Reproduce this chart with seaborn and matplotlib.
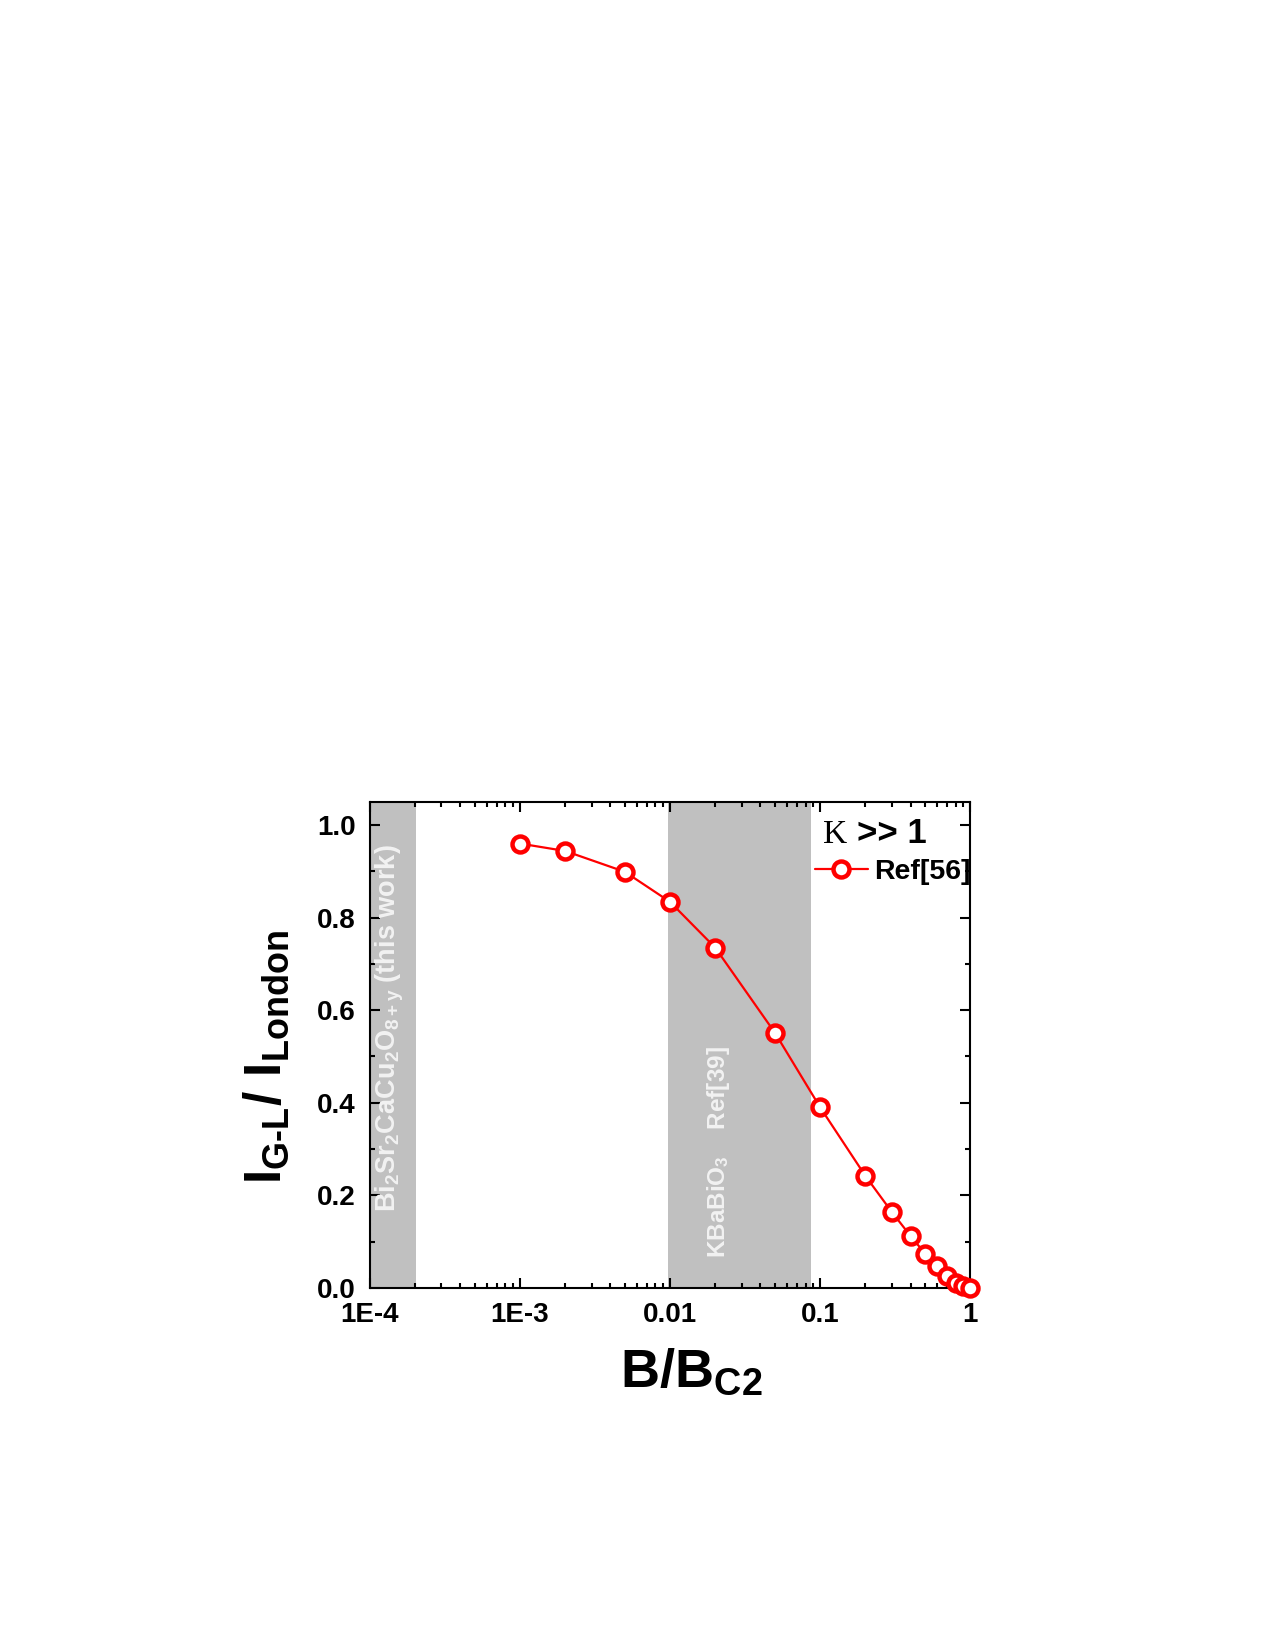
import numpy as np
import pandas as pd
import seaborn as sns
import matplotlib.pyplot as plt
from matplotlib.ticker import MultipleLocator, LogLocator, NullFormatter

# data
b_ratio = [0.001, 0.002, 0.005, 0.01, 0.02, 0.05, 0.1, 0.2, 0.3, 0.4, 0.5, 0.6, 0.7, 0.8, 0.9, 1.0]
i_ratio = [0.960, 0.944, 0.899, 0.834, 0.735, 0.551, 0.390, 0.242, 0.164, 0.112, 0.074, 0.047, 0.025, 0.011, 0.004, 0.0]

band_bi = (1e-4, 2.03e-4)
band_kba = (0.0097, 0.087)

xtick_vals = [1e-4, 1e-3, 0.01, 0.1, 1]
xtick_labels = ['1E-4', '1E-3', '0.01', '0.1', '1']
ytick_vals = [0.0, 0.2, 0.4, 0.6, 0.8, 1.0]

sns.set_style('ticks', rc={'text.color': 'black', 'axes.labelcolor': 'black',
                           'xtick.color': 'black', 'ytick.color': 'black',
                           'axes.edgecolor': 'black'})
plt.rcParams['font.family'] = ['Liberation Sans', 'DejaVu Sans']
plt.rcParams['mathtext.fontset'] = 'custom'
plt.rcParams['mathtext.rm'] = 'Liberation Sans:bold'
plt.rcParams['mathtext.it'] = 'Liberation Sans:bold'
plt.rcParams['mathtext.bf'] = 'Liberation Sans:bold'
plt.rcParams['mathtext.default'] = 'rm'

df = pd.DataFrame({'b': b_ratio, 'i': i_ratio})

fig = plt.figure(figsize=(12.75, 16.5), dpi=100)
ax = fig.add_axes([0.290, 0.2195, 0.471, 0.2945])

# shaded regions
ax.axvspan(*band_bi, color='#c0c0c0', lw=0, zorder=0)
ax.axvspan(*band_kba, color='#c0c0c0', lw=0, zorder=0)

sns.lineplot(data=df, x='b', y='i', ax=ax, color='red', lw=1.6,
             marker='o', markersize=11.5, markerfacecolor='white',
             markeredgecolor='red', markeredgewidth=3.2,
             label='Ref[56]', zorder=3, clip_on=False)

ax.set_xscale('log')
ax.set_xlim(1e-4, 1)
ax.set_ylim(0, 1.05)

ax.set_xticks(xtick_vals)
ax.set_xticklabels(xtick_labels)
ax.xaxis.set_minor_locator(LogLocator(base=10, subs=np.arange(2, 10)))
ax.xaxis.set_minor_formatter(NullFormatter())
ax.set_yticks(ytick_vals)
ax.set_yticklabels([f'{v:.1f}' for v in ytick_vals])
ax.yaxis.set_minor_locator(MultipleLocator(0.1))

ax.tick_params(which='both', direction='in', top=True, right=True, width=1.5)
ax.tick_params(which='major', length=7, labelsize=20, pad=10)
ax.tick_params(which='minor', length=3.5)
for lab in ax.get_xticklabels() + ax.get_yticklabels():
    lab.set_fontweight('bold')
for sp in ax.spines.values():
    sp.set_linewidth(1.5)

ax.set_xlabel(r'$\mathbf{B/B_{C2}}$', fontsize=39)
ax.xaxis.set_label_coords(0.535, -0.121)
ax.set_ylabel(r'$\mathbf{I_{\text{G-L}}/\ I_{London}}$', fontsize=37)
ax.yaxis.set_label_coords(-0.13, 0.475)

# labels inside the bands
ax.text(1.36e-4, 0.164, r'Bi$_2$Sr$_2$CaCu$_2$O$_{8+y}$ (this work)',
        rotation=90, ha='center', va='bottom', fontsize=19.5,
        fontweight='bold', color='#f2f2f2')
ax.text(0.0209, 0.065, r'KBaBiO$_3$    Ref[39]',
        rotation=90, ha='center', va='bottom', fontsize=17.5,
        fontweight='bold', color='#f2f2f2')

# kappa >> 1
ax.text(0.755, 0.916, 'K', transform=ax.transAxes, fontsize=24,
        family='Liberation Serif', ha='left', va='baseline')
ax.text(0.812, 0.916, '>> 1', transform=ax.transAxes, fontsize=25,
        fontweight='bold', ha='left', va='baseline')

leg = ax.legend(loc='center right', bbox_to_anchor=(1.0, 0.856),
                frameon=False, borderaxespad=0, borderpad=0,
                handlelength=1.85, handletextpad=0.22,
                prop={'size': 20.5, 'weight': 'bold'})

fig.savefig('out.png', dpi=100)
